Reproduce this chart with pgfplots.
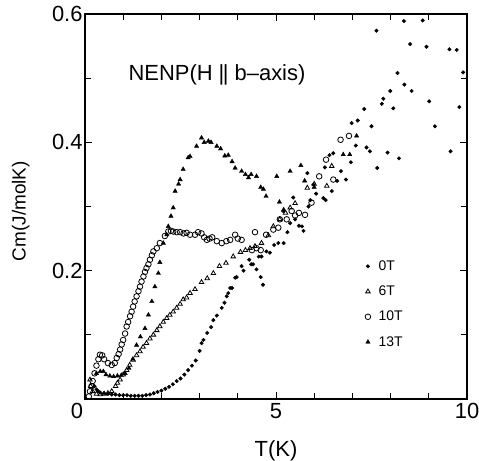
\documentclass[border=0pt]{standalone}
\usepackage{pgfplots}
\pgfplotsset{compat=1.18}
\usepackage{fontspec}
\setmainfont{Liberation Sans}

\begin{document}
\begin{tikzpicture}
\begin{axis}[
    scale only axis,
    width=382bp, height=385bp,
    xmin=0, xmax=10,
    ymin=0, ymax=0.6,
    xtick={0,5,10},
    xticklabels={\llap{\mbox{0}\kern2bp},\mbox{5},\mbox{10}},
    ytick={0,0.2,0.4,0.6},
    yticklabels={,\mbox{0.2},\mbox{0.4},\mbox{0.6}},
    minor xtick={1,2,3,4,6,7,8,9},
    minor ytick={0.1,0.3,0.5},
    tick align=inside,
    major tick length=7bp,
    minor tick length=6bp,
    every tick/.style={black, line width=0.9bp},
    axis line style={line width=1.1bp},
    ticklabel style={font=\fontsize{22}{22}\selectfont},
    xticklabel style={yshift=-1bp},
    yticklabel style={xshift=1bp},
    xlabel={T(K)},
    ylabel={Cm(J/molK)},
    xlabel style={at={(axis description cs:0.5,-0.135)}, anchor=center, font=\fontsize{22}{22}\selectfont},
    ylabel style={at={(axis description cs:-0.168,0.488)}, anchor=center, font=\fontsize{19}{19}\selectfont},
    legend style={draw=none, fill=none, at={(rel axis cs:0.725,0.37)}, anchor=north west,
        font=\fontsize{14}{14}\selectfont, row sep=10bp},
    legend cell align=left,
    clip=false,
]

% 0T
\addplot[only marks, mark=*, mark size=1.8bp, black] coordinates {
(0.25,0.02) (0.3,0.015) (0.35,0.012) (0.4,0.01) (0.5,0.009) (0.6,0.008) (0.7,0.007) (0.8,0.007)
(0.9,0.006) (1.0,0.006) (1.1,0.006) (1.2,0.005) (1.3,0.005) (1.4,0.005) (1.5,0.005) (1.6,0.006)
(1.7,0.007) (1.8,0.009) (1.9,0.011) (2.0,0.013) (2.1,0.016) (2.2,0.019) (2.3,0.023) (2.4,0.028)
(2.5,0.032) (2.6,0.038) (2.7,0.045) (2.8,0.052) (2.9,0.06) (3.0,0.075) (3.05,0.087) (3.1,0.092)
(3.2,0.103) (3.3,0.112) (3.36,0.123) (3.45,0.13) (3.58,0.142) (3.65,0.15) (3.71,0.16) (3.75,0.165)
(3.8,0.173) (3.85,0.173) (3.93,0.189) (3.97,0.19) (4.1,0.207) (4.15,0.2) (4.3,0.217) (4.35,0.21)
(4.4,0.21) (4.49,0.202) (4.55,0.222) (4.62,0.222) (4.6,0.19) (4.66,0.178) (4.75,0.23) (4.84,0.228)
(4.95,0.24) (5.06,0.243) (5.2,0.243) (5.19,0.293) (5.3,0.26) (5.37,0.274) (5.45,0.314) (5.5,0.28)
(5.6,0.27) (5.68,0.269) (5.72,0.262) (5.82,0.352) (5.85,0.3) (5.9,0.31) (5.98,0.334) (6.05,0.32)
(6.24,0.313) (6.3,0.31) (6.28,0.361) (6.4,0.38) (6.46,0.324) (6.5,0.383) (6.6,0.34) (6.7,0.355)
(6.83,0.342) (6.96,0.369) (6.98,0.43) (7.09,0.395) (7.14,0.434) (7.31,0.452) (7.37,0.392) (7.46,0.386)
(7.5,0.425) (7.63,0.574) (7.65,0.36) (7.77,0.46) (7.81,0.468) (7.92,0.384) (7.99,0.48) (8.07,0.453)
(8.18,0.508) (8.22,0.375) (8.35,0.589) (8.36,0.49) (8.51,0.553) (8.55,0.48) (8.84,0.59) (8.94,0.549)
(9.01,0.464) (9.16,0.425) (9.54,0.545) (9.57,0.386) (9.73,0.544) (9.8,0.455) (9.9,0.509)
};
\addlegendentry{\hspace{6bp}0T}

% 6T
\addplot[only marks, mark=triangle, mark size=2.6bp, black, mark options={line width=0.8bp}] coordinates {
(0.13,0.03) (0.15,0.02) (0.2,0.012) (0.3,0.008) (0.4,0.007) (0.5,0.008) (0.6,0.009) (0.7,0.012)
(0.8,0.02) (0.85,0.025) (0.92,0.03) (1.0,0.038) (1.09,0.045) (1.17,0.053) (1.26,0.061) (1.35,0.068)
(1.44,0.074) (1.52,0.081) (1.61,0.087) (1.7,0.094) (1.79,0.1) (1.88,0.107) (1.96,0.113) (2.05,0.12)
(2.14,0.126) (2.22,0.131) (2.31,0.136) (2.4,0.142) (2.49,0.148) (2.57,0.155) (2.66,0.158) (2.75,0.165)
(2.88,0.171) (3.05,0.182) (3.2,0.188) (3.36,0.196) (3.52,0.207) (3.69,0.212) (3.88,0.222) (4.07,0.229)
(4.2,0.232) (4.32,0.235) (4.45,0.238) (4.62,0.243) (4.8,0.255) (4.93,0.269) (5.1,0.28) (5.25,0.29)
(5.37,0.298) (5.5,0.305) (5.82,0.329) (6.0,0.335) (6.33,0.332) (6.46,0.363)
};
\addlegendentry{\hspace{6bp}6T}

% 10T
\addplot[only marks, mark=o, mark size=2.8bp, black, mark options={line width=0.8bp}] coordinates {
(0.1,0.004) (0.13,0.012) (0.17,0.02) (0.2,0.028) (0.25,0.04) (0.3,0.052) (0.35,0.062) (0.39,0.069)
(0.45,0.068) (0.5,0.062) (0.6,0.056) (0.7,0.053) (0.78,0.056) (0.83,0.064) (0.88,0.07) (0.92,0.077)
(0.96,0.085) (1.0,0.092) (1.05,0.102) (1.09,0.113) (1.13,0.12) (1.18,0.129) (1.22,0.136) (1.26,0.144)
(1.3,0.152) (1.35,0.16) (1.4,0.168) (1.44,0.175) (1.48,0.183) (1.53,0.191) (1.57,0.198) (1.61,0.204)
(1.66,0.21) (1.7,0.217) (1.75,0.224) (1.79,0.23) (1.88,0.235) (1.96,0.243) (2.09,0.254) (2.18,0.261)
(2.25,0.262) (2.31,0.261) (2.4,0.26) (2.49,0.26) (2.58,0.258) (2.66,0.259) (2.75,0.256) (2.88,0.256)
(2.96,0.26) (3.05,0.258) (3.12,0.252) (3.19,0.248) (3.26,0.25) (3.33,0.252) (3.45,0.246) (3.58,0.243)
(3.7,0.246) (3.8,0.248) (3.93,0.256) (4.0,0.25) (4.1,0.248) (4.37,0.232) (4.49,0.235) (4.6,0.232)
(4.45,0.26) (4.74,0.256) (4.93,0.264) (5.06,0.267) (5.1,0.28) (5.28,0.28) (5.41,0.293) (5.5,0.286)
(5.6,0.29) (5.76,0.287) (5.93,0.306) (6.13,0.347) (6.31,0.373) (6.5,0.342) (6.69,0.404) (6.91,0.41)
};
\addlegendentry{\hspace{6bp}10T}

% 13T
\addplot[only marks, mark=triangle*, mark size=2.5bp, black] coordinates {
(0.3,0.04) (0.4,0.043) (0.48,0.043) (0.55,0.038) (0.65,0.036) (0.75,0.035) (0.85,0.036) (0.95,0.037)
(1.05,0.04) (1.15,0.048) (1.25,0.062) (1.35,0.084) (1.45,0.097) (1.57,0.11) (1.66,0.131) (1.75,0.152)
(1.83,0.175) (1.92,0.196) (1.96,0.213) (2.05,0.243) (2.14,0.256) (2.18,0.269) (2.25,0.285) (2.31,0.298)
(2.36,0.324) (2.45,0.335) (2.49,0.342) (2.57,0.358) (2.7,0.376) (2.75,0.378) (2.92,0.394) (3.05,0.407)
(3.12,0.4) (3.23,0.402) (3.3,0.4) (3.45,0.394) (3.55,0.39) (3.66,0.379) (3.75,0.38) (3.85,0.37)
(3.93,0.36) (4.1,0.355) (4.2,0.35) (4.28,0.345) (4.35,0.35) (4.49,0.347) (4.6,0.33) (4.67,0.327)
(4.74,0.316) (5.02,0.347) (5.09,0.307) (5.2,0.295) (5.37,0.355) (5.65,0.364) (5.75,0.34) (6.0,0.33)
(6.76,0.381) (6.93,0.381) (7.11,0.41)
};
\addlegendentry{\hspace{6bp}13T}

\node[anchor=west, font=\fontsize{22}{22}\selectfont] at (axis cs:1.05,0.505) {NENP(H \textbar\kern-1.5bp\textbar\ b--axis)};
\end{axis}
\pgfresetboundingbox
\path[use as bounding box] (-85bp,-62bp) rectangle (394bp,399bp);
\end{tikzpicture}
\end{document}
